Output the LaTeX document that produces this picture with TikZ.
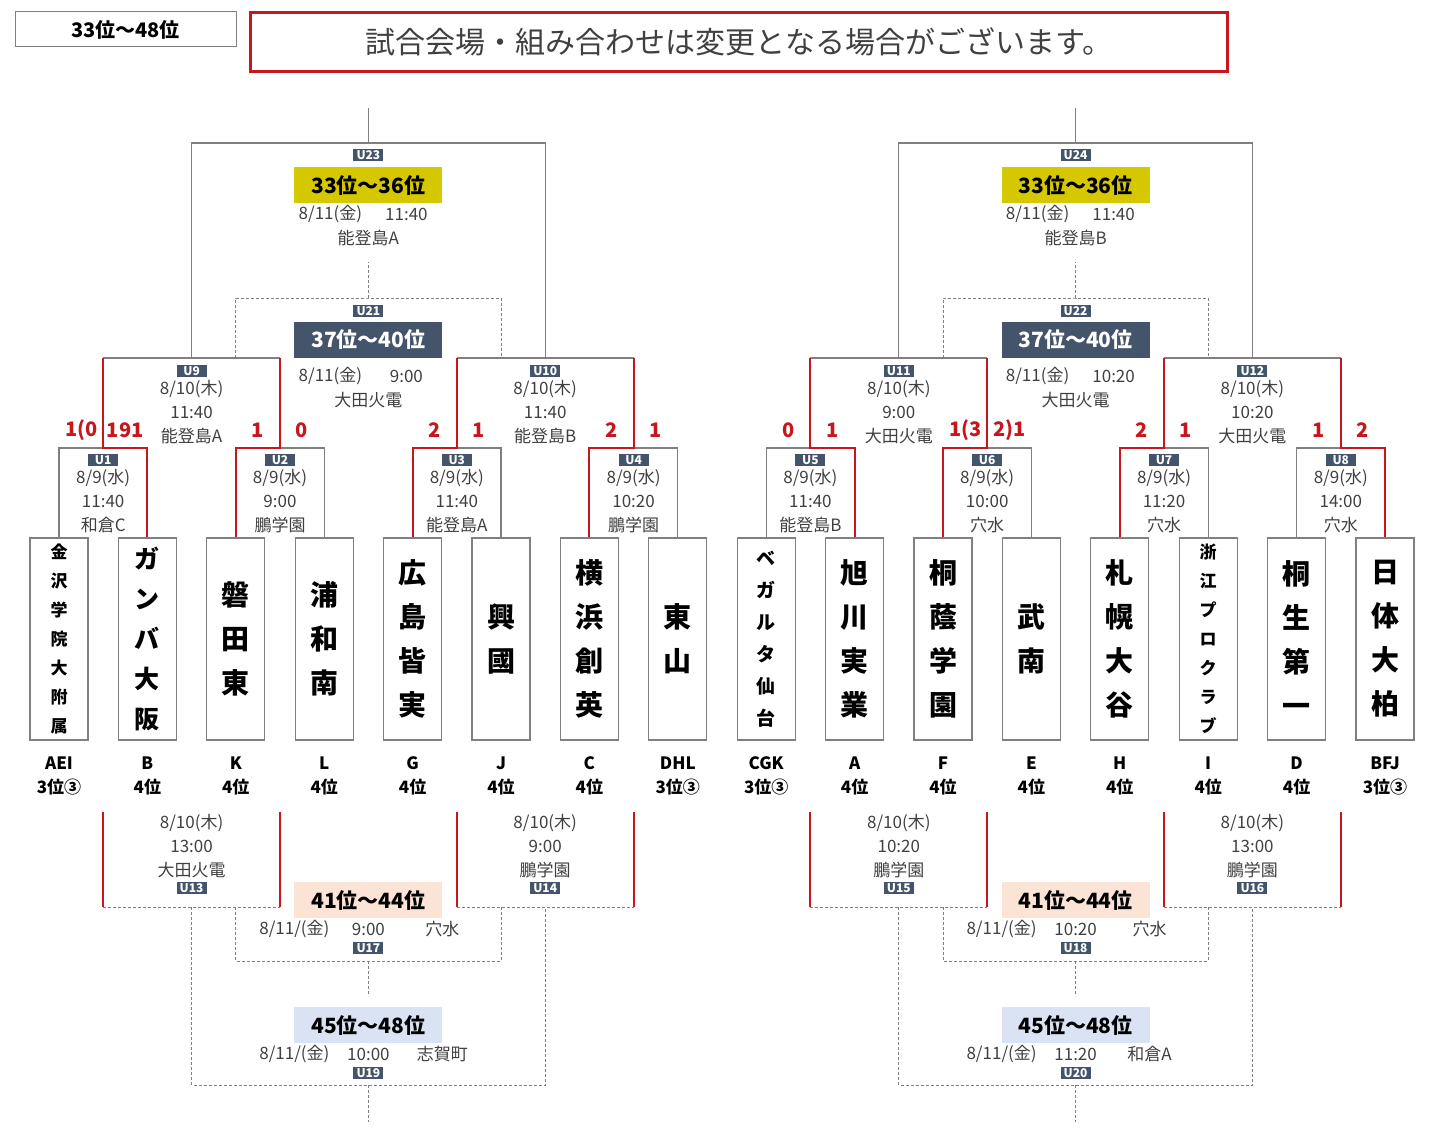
\documentclass[tikz,border=0pt]{standalone}
\usepackage{fontspec}
\setmainfont{Noto Sans CJK JP}
\usetikzlibrary{positioning}

\definecolor{slate}{RGB}{68,84,106}
\definecolor{topyellow}{RGB}{213,200,0}
\definecolor{midpeach}{RGB}{251,228,213}
\definecolor{lowblue}{RGB}{218,227,243}
\definecolor{winred}{RGB}{200,22,30}
\definecolor{linegray}{RGB}{128,128,128}
\definecolor{txtgray}{RGB}{64,64,64}

\tikzset{
  gline/.style={draw=linegray,line width=1.2pt},
  dline/.style={draw=linegray,line width=1pt,dash pattern=on 3pt off 2pt},
  rline/.style={draw=winred,line width=2pt},
  team/.style={draw=linegray,line width=1.2pt,minimum width=58pt,minimum height=202pt,inner sep=0pt,align=center},
  nmL/.style={font=\fontsize{28}{44}\selectfont\bfseries},
  nmM/.style={font=\fontsize{25}{40}\selectfont\bfseries},
  nmS/.style={font=\fontsize{19}{32}\selectfont\bfseries},
  nmXS/.style={font=\fontsize{17}{29}\selectfont\bfseries},
  code/.style={font=\fontsize{17}{24}\selectfont\bfseries,align=center,inner sep=0pt},
  tag/.style={fill=slate,text=white,font=\fontsize{12}{12}\selectfont\bfseries,minimum width=30pt,minimum height=12pt,inner sep=0pt},
  info/.style={font=\fontsize{17}{24}\selectfont,text=txtgray,align=center,inner sep=0pt},
  score/.style={font=\fontsize{20}{20}\selectfont\bfseries,text=winred,inner sep=0pt},
  rank/.style={font=\fontsize{21}{21}\selectfont\bfseries,minimum width=148pt,minimum height=36pt,inner sep=0pt},
}

\begin{document}
\begin{tikzpicture}[x=1pt,y=-1pt]
\useasboundingbox (0,0) rectangle (1445,1134);

% header
\node[draw=linegray,line width=1pt,minimum width=221pt,minimum height=35pt,font=\fontsize{20}{20}\selectfont\bfseries] (title) at (125.5,29.5) {33位～48位};
\node[draw=winred,line width=3pt,minimum width=977pt,minimum height=59pt,text=txtgray,font=\fontsize{30}{30}\selectfont] (notice) at (739,42) {試合会場・組み合わせは変更となる場合がございます。};

% teams
\foreach \i/\nm/\st/\cd in {
  1/{金\\沢\\学\\院\\大\\附\\属}/nmXS/{AEI\\3位③},
  2/{ガ\\ン\\バ\\大\\阪}/nmM/{B\\4位},
  3/{磐\\田\\東}/nmL/{K\\4位},
  4/{浦\\和\\南}/nmL/{L\\4位},
  5/{広\\島\\皆\\実}/nmL/{G\\4位},
  6/{興\\國}/nmL/{J\\4位},
  7/{横\\浜\\創\\英}/nmL/{C\\4位},
  8/{東\\山}/nmL/{DHL\\3位③},
  9/{ベ\\ガ\\ル\\タ\\仙\\台}/nmS/{CGK\\3位③},
  10/{旭\\川\\実\\業}/nmL/{A\\4位},
  11/{桐\\蔭\\学\\園}/nmL/{F\\4位},
  12/{武\\南}/nmL/{E\\4位},
  13/{札\\幌\\大\\谷}/nmL/{H\\4位},
  14/{浙\\江\\プ\\ロ\\ク\\ラ\\ブ}/nmXS/{I\\4位},
  15/{桐\\生\\第\\一}/nmL/{D\\4位},
  16/{日\\体\\大\\柏}/nmL/{BFJ\\3位③}}
{
  \node[team,\st] (t\i) at ({59+88.4*(\i-1)},639) {\nm};
  \node[code,below=16pt of t\i] (c\i) {\cd};
}

% first round
\foreach \k/\x/\tm/\pl/\sa/\sb in {
  1/103.2/11:40/和倉C/1(0/191, 2/280/9:00/鵬学園/1/0,
  3/456.8/11:40/能登島A/2/1, 4/633.6/10:20/鵬学園/2/1,
  5/810.4/11:40/能登島B/0/1, 6/987.2/10:00/穴水/1(3/2)1,
  7/1164/11:20/穴水/2/1, 8/1340.8/14:00/穴水/1/2}
{
  \coordinate (u\k) at (\x,448);
  \node[tag] (g\k) at (\x,460) {U\k};
  \node[info] (i\k) at (\x,501.5) {8/9(水)\\\tm\\\pl};
  \node[score] (sa\k) at (\x-22,430) {\sa};
  \node[score] (sb\k) at (\x+22,430) {\sb};
}

% second round
\foreach \k/\x/\tm/\pl in {9/191.6/11:40/能登島A, 10/545.2/11:40/能登島B,
  11/898.8/9:00/大田火電, 12/1252.4/10:20/大田火電}
{
  \coordinate (u\k) at (\x,358);
  \node[tag] (g\k) at (\x,371) {U\k};
  \node[info] (i\k) at (\x,412) {8/10(木)\\\tm\\\pl};
}
\foreach \k/\x/\tm/\pl in {13/191.6/13:00/大田火電, 14/545.2/9:00/鵬学園,
  15/898.8/10:20/鵬学園, 16/1252.4/13:00/鵬学園}
{
  \coordinate (u\k) at (\x,907);
  \coordinate (e\k) at (\x,812);
  \node[info] (i\k) at (\x,846) {8/10(木)\\\tm\\\pl};
  \node[tag] (g\k) at (\x,888) {U\k};
}

% placing games
\foreach \k/\x/\pl in {23/368.4/能登島A, 24/1075.6/能登島B} {
  \coordinate (u\k) at (\x,143);
  \coordinate (e\k) at (\x,108);
  \node[tag] (g\k) at (\x,155) {U\k};
  \node[rank,fill=topyellow] (r\k) at (\x,185.5) {33位～36位};
  \node[info] (d\k) at (\x-38,214) {8/11(金)};
  \node[info] (h\k) at (\x+38,214) {11:40};
  \node[info] (p\k) at (\x,238) {\pl};
}
\foreach \k/\x/\tm in {21/368.4/9:00, 22/1075.6/10:20} {
  \coordinate (u\k) at (\x,298);
  \coordinate (e\k) at (\x,262);
  \node[tag] (g\k) at (\x,311) {U\k};
  \node[rank,fill=slate,text=white] (r\k) at (\x,340) {37位～40位};
  \node[info] (d\k) at (\x-38,376) {8/11(金)};
  \node[info] (h\k) at (\x+38,376) {\tm};
  \node[info] (p\k) at (\x,400) {大田火電};
}
\foreach \k/\x/\tm/\pl in {17/368.4/9:00/穴水, 18/1075.6/10:20/穴水} {
  \coordinate (u\k) at (\x,961);
  \coordinate (e\k) at (\x,996);
  \node[rank,fill=midpeach] (r\k) at (\x,900) {41位～44位};
  \node[info] (d\k) at (\x-74,929) {8/11/(金)};
  \node[info] (h\k) at (\x,929) {\tm};
  \node[info] (p\k) at (\x+74,929) {\pl};
  \node[tag] (g\k) at (\x,948) {U\k};
}
\foreach \k/\x/\tm/\pl in {19/368.4/10:00/志賀町, 20/1075.6/11:20/和倉A} {
  \coordinate (u\k) at (\x,1085);
  \coordinate (e\k) at (\x,1122);
  \node[rank,fill=lowblue] (r\k) at (\x,1025) {45位～48位};
  \node[info] (d\k) at (\x-74,1054) {8/11/(金)};
  \node[info] (h\k) at (\x,1054) {\tm};
  \node[info] (p\k) at (\x+74,1054) {\pl};
  \node[tag] (g\k) at (\x,1073) {U\k};
}

% brackets, upper half
\foreach \a/\b/\m in {1/2/9, 3/4/10, 5/6/11, 7/8/12}
  \draw[gline] (u\a |- u\m) -- (u\b |- u\m);
\draw[gline] (u9) |- (u23) -| (u10);
\draw[gline] (u23) -- (e23);
\draw[gline] (u11) |- (u24) -| (u12);
\draw[gline] (u24) -- (e24);
\draw[dline] (t3 |- u9) |- (u21) -| (t6 |- u10);
\draw[dline] (u21) -- (e21);
\draw[dline] (t11 |- u11) |- (u22) -| (t14 |- u12);
\draw[dline] (u22) -- (e22);
\foreach \k/\w/\l/\m in {1/2/1/9, 2/3/4/9, 3/5/6/10, 4/7/8/10,
  5/10/9/11, 6/11/12/11, 7/13/14/12, 8/16/15/12}
{
  \draw[gline] (t\l.north) |- (u\k);
  \draw[rline] (t\w.north) |- (u\k) -- (u\k |- u\m);
}

% brackets, lower half
\draw[dline] (t3 |- u13) |- (u17) -| (t6 |- u14);
\draw[dline] (u17) -- (e17);
\draw[dline] (u13) |- (u19) -| (u14);
\draw[dline] (u19) -- (e19);
\draw[dline] (t11 |- u15) |- (u18) -| (t14 |- u16);
\draw[dline] (u18) -- (e18);
\draw[dline] (u15) |- (u20) -| (u16);
\draw[dline] (u20) -- (e20);
\foreach \k/\a/\b in {13/1/2, 14/3/4, 15/5/6, 16/7/8} {
  \draw[dline] (u\a |- u\k) -- (u\b |- u\k);
  \draw[rline] (u\a |- e\k) -- (u\a |- u\k);
  \draw[rline] (u\b |- e\k) -- (u\b |- u\k);
}
\end{tikzpicture}
\end{document}
